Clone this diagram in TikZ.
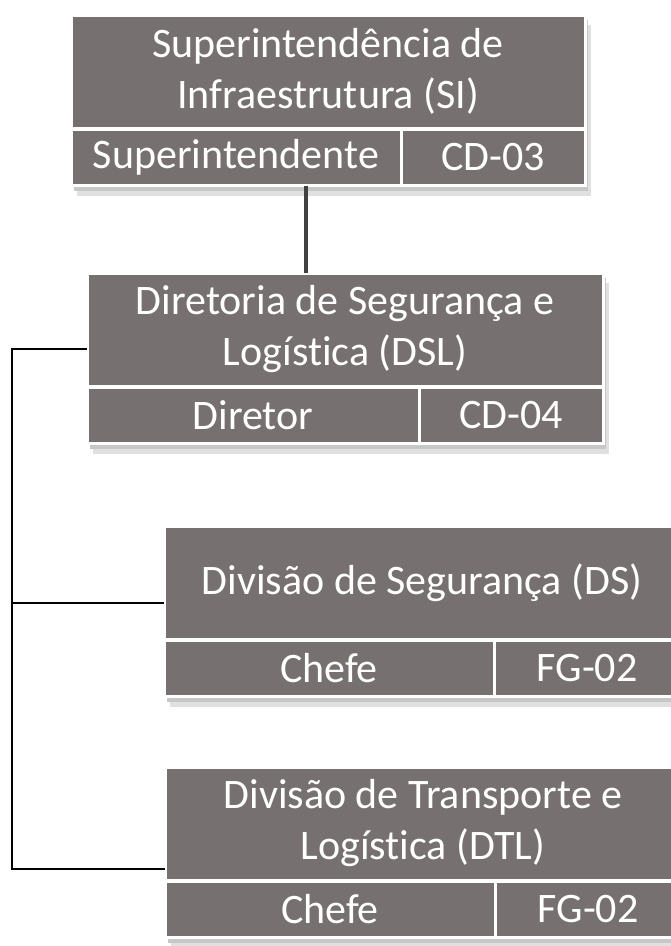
\documentclass[tikz,border=0pt]{standalone}
\usepackage{fontspec}
\setmainfont{Carlito}[Ligatures={NoCommon}]
\usetikzlibrary{backgrounds}

\definecolor{caixa}{RGB}{118,113,112}
\definecolor{haste}{RGB}{64,64,64}

\tikzset{
  titulo/.style={draw=white, line width=3pt, fill=caixa, text=white, align=center,
    inner sep=0pt, outer sep=0pt, anchor=north west, font=\fontsize{42}{51}\selectfont},
  celula/.style={titulo, minimum height=56pt},
  sombra/.style={fill=black!12},
  chave/.style={black, line width=2pt},
}

\begin{document}
\begin{tikzpicture}[x=1pt,y=-1pt]
  \useasboundingbox (0,0) rectangle (671,946);
  \clip (0,0) rectangle (671,946);
  % caixas: nome/x/y/largura/largura do cargo/titulo/cargo/nivel
  \foreach \nome/\x/\y/\larg/\esq/\titulo/\cargo/\nivel in {
      si/71/15/514/330/{Superintendência de\\Infraestrutura (SI)}/Superintendente/CD-03,
      dsl/87/273/516/332/{Diretoria de Segurança e\\Logística (DSL)}/Diretor/CD-04,
      ds/164/526/516/330/{Divisão de Segurança (DS)}/Chefe/FG-02,
      dtl/165/767/516/330/{Divisão de Transporte e\\Logística (DTL)}/Chefe/FG-02} {
    \node[titulo, minimum width=\larg pt, minimum height=113pt] (\nome) at (\x,\y) {\titulo};
    \node[celula, minimum width=\esq pt, yshift=-1.5pt] (\nome-cargo) at (\nome.south west) {\cargo};
    \node[celula, minimum width=\larg pt-\esq pt] (\nome-nivel) at (\nome-cargo.north east) {\nivel};
    \begin{scope}[on background layer]
      \fill[sombra] ([shift={(6,10)}]\nome.north west) rectangle ([shift={(6,10)}]\nome-nivel.south east);
      \fill[black!22] ([shift={(3,5)}]\nome.north west) rectangle ([shift={(3,5)}]\nome-nivel.south east);
    \end{scope}
  }
  % ligacoes
  \coordinate (eixo) at (306,0);
  \draw[haste, line width=3.5pt] (eixo |- si-cargo.south) -- (eixo |- dsl.north);
  \coordinate (k1) at (12,349);
  \coordinate (k2) at (12,603);
  \coordinate (k3) at (12,869);
  \draw[chave] (k1 -| dsl.west) -- (k1) -- (k3) -- (k3 -| dtl.west);
  \draw[chave] (k2) -- (k2 -| ds.west);
\end{tikzpicture}
\end{document}
